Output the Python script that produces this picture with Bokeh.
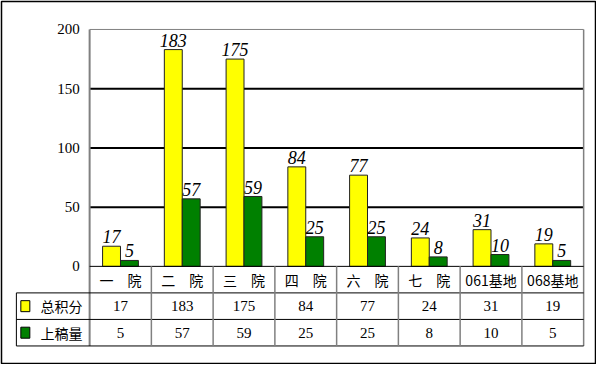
from bokeh.plotting import figure
from bokeh.models import Range1d
from bokeh.core.properties import value
from bokeh.embed import file_html
from bokeh.resources import INLINE

# ---- data ----
categories = ["一　院", "二　院", "三　院", "四　院", "六　院", "七　院", "061基地", "068基地"]
series_names = ["总积分", "上稿量"]
total_score = [17, 183, 175, 84, 77, 24, 31, 19]
draft_count = [5, 57, 59, 25, 25, 8, 10, 5]
y_ticks = [0, 50, 100, 150, 200]
series_colors = ["#FFFF00", "#008000"]

n = len(categories)
idx = list(range(n))
bar_w = 0.29
row_h = 22.4          # table row height in y-data units
label_col = -1.186    # left edge of the table's label column (x units)
ymax = y_ticks[-1]

p = figure(width=596, height=364, output_backend="svg", toolbar_location=None,
           x_range=Range1d(-1.427, 8.192), y_range=Range1d(-82.0, 223.6),
           x_axis_type=None, y_axis_type=None,
           min_border_left=1, min_border_right=1, min_border_top=1, min_border_bottom=1)
p.grid.visible = False
p.outline_line_color = "#000000"
p.outline_line_width = 1.5
p.background_fill_color = "#FFFFFF"
p.border_fill_color = "#FFFFFF"

# grid lines (inside plot area only)
grid_vals = [t for t in y_ticks if 0 < t < ymax]
p.segment(x0=[0] * len(grid_vals), x1=[n] * len(grid_vals), y0=grid_vals, y1=grid_vals,
          line_color="#000000", line_width=2)
# plot area frame (grey top & right & left)
p.segment(x0=[0], x1=[n], y0=[ymax], y1=[ymax], line_color="#808080", line_width=1)
p.segment(x0=[n], x1=[n], y0=[ymax], y1=[-3 * row_h], line_color="#808080", line_width=1.5)
p.segment(x0=[0], x1=[0], y0=[ymax], y1=[-3 * row_h], line_color="#808080", line_width=2)

# bars
xs_a = [i + 0.5 - bar_w / 2 for i in idx]
xs_b = [i + 0.5 + bar_w / 2 for i in idx]
p.vbar(x=xs_a, width=bar_w, top=total_score, bottom=0,
       fill_color=series_colors[0], line_color="#222222", line_width=1)
p.vbar(x=xs_b, width=bar_w, top=draft_count, bottom=0,
       fill_color=series_colors[1], line_color="#222222", line_width=1)

# bar value labels
p.text(x=xs_a, y=[v + 2.5 for v in total_score], text=[str(v) for v in total_score],
       text_font=value("Liberation Serif"), text_font_style="italic", text_font_size="18px",
       text_align="center", text_baseline="bottom", text_color="#000000")
p.text(x=xs_b, y=[v + 2.5 for v in draft_count], text=[str(v) for v in draft_count],
       text_font=value("Liberation Serif"), text_font_style="italic", text_font_size="18px",
       text_align="center", text_baseline="bottom", text_color="#000000")

# y tick labels
p.text(x=[-0.16] * len(y_ticks), y=y_ticks, text=[str(t) for t in y_ticks],
       text_font=value("Liberation Serif"), text_font_size="15px",
       text_align="right", text_baseline="middle", text_color="#000000")

# ---- data table ----
# horizontal lines
p.segment(x0=[0], x1=[n], y0=[0], y1=[0], line_color="#000000", line_width=1)
for k in (1, 2, 3):
    p.segment(x0=[label_col], x1=[n], y0=[-k * row_h], y1=[-k * row_h],
              line_color="#000000", line_width=1)
# vertical lines
p.segment(x0=idx[1:], x1=idx[1:], y0=[0] * (n - 1), y1=[-3 * row_h] * (n - 1),
          line_color="#808080", line_width=1.5)
p.segment(x0=[label_col], x1=[label_col], y0=[-row_h], y1=[-3 * row_h],
          line_color="#000000", line_width=1)

centers = [i + 0.5 for i in idx]
# category row
p.text(x=centers, y=[-0.5 * row_h] * n, text=categories,
       text_font=value("Noto Sans CJK SC"), text_font_size="14px",
       text_align="center", text_baseline="middle", text_color="#000000")
# value rows
for r, vals in enumerate([total_score, draft_count]):
    yc = -(r + 1.5) * row_h
    p.text(x=centers, y=[yc] * n, text=[str(v) for v in vals],
           text_font=value("Liberation Serif"), text_font_size="15px",
           text_align="center", text_baseline="middle", text_color="#000000")
    p.rect(x=[label_col + 0.145], y=[yc], width=9, height=11,
           width_units="screen", height_units="screen",
           fill_color=series_colors[r], line_color="#000000", line_width=1)
    p.text(x=[label_col + 0.39], y=[yc], text=[series_names[r]],
           text_font=value("Noto Sans CJK SC"), text_font_size="14px",
           text_align="left", text_baseline="middle", text_color="#000000")

open("out.html", "w").write(file_html(p, INLINE))
